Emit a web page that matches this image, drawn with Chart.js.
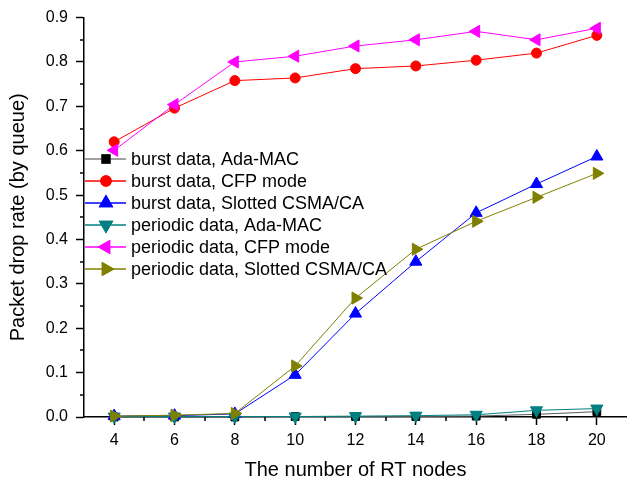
<!DOCTYPE html>
<html lang="en">
<head>
    <meta charset="UTF-8">
    <title>Packet drop rate</title>
    <style>
        * { margin: 0; padding: 0; box-sizing: border-box; }
        body { background: #ffffff; }
        .wrapper { width: 627px; height: 482px; }
    </style>
</head>
<body>
    <div class="wrapper">
        <canvas id="chart" width="627" height="482"></canvas>
    </div>
    <script src="https://cdn.jsdelivr.net/npm/chart.js@4/dist/chart.umd.min.js"></script>
    <script>
        const nodes = [4, 6, 8, 10, 12, 14, 16, 18, 20];
        const yTicks = [0, 0.1, 0.2, 0.3, 0.4, 0.5, 0.6, 0.7, 0.8, 0.9];

        const burstAda = [0.000, 0.000, 0.000, 0.001, 0.001, 0.001, 0.002, 0.006, 0.012];
        const burstCfp = [0.620, 0.696, 0.758, 0.764, 0.785, 0.791, 0.804, 0.820, 0.860];
        const burstSlotted = [0.002, 0.003, 0.007, 0.095, 0.233, 0.350, 0.460, 0.525, 0.587];
        const periodicAda = [0.001, 0.001, 0.001, 0.001, 0.002, 0.003, 0.005, 0.015, 0.019];
        const periodicCfp = [0.601, 0.704, 0.800, 0.813, 0.836, 0.850, 0.869, 0.850, 0.876];
        const periodicSlotted = [0.002, 0.004, 0.008, 0.115, 0.268, 0.378, 0.441, 0.495, 0.549];

        const labels = [
            "burst data, Ada-MAC",
            "burst data, CFP mode",
            "burst data, Slotted CSMA/CA",
            "periodic data, Ada-MAC",
            "periodic data, CFP mode",
            "periodic data, Slotted CSMA/CA",
        ];

        const FONT = '"Liberation Sans", Arial, sans-serif';

        const makeSet = (i, data, line, fill, style, rot, r) => ({
            label: labels[i],
            data: nodes.map((x, k) => ({ x: x, y: data[k] })),
            borderColor: line,
            backgroundColor: fill,
            borderWidth: 1,
            pointStyle: style,
            rotation: rot,
            pointRadius: r,
            pointBackgroundColor: fill,
            pointBorderColor: fill,
            pointBorderWidth: 1,
            tension: 0,
            clip: false,
            order: 6 - i,
        });

        const datasets = [
            makeSet(0, burstAda, "#5a5a5a", "#000000", "rect", 0, 5.5),
            makeSet(1, burstCfp, "#ff0000", "#ff0000", "circle", 0, 5),
            makeSet(2, burstSlotted, "#0000ff", "#0000ff", "triangle", 0, 7),
            makeSet(3, periodicAda, "#008080", "#008080", "triangle", 180, 7),
            makeSet(4, periodicCfp, "#ff00ff", "#ff00ff", "triangle", -90, 7),
            makeSet(5, periodicSlotted, "#808000", "#808000", "triangle", 90, 7),
        ];
        const legendLine = ["#808080", "#ff0000", "#0000ff", "#008080", "#ff00ff", "#808000"];

        // minor ticks, drawn outward like the major ones
        const minorTicks = {
            id: "minorTicks",
            afterDraw(chart) {
                const { ctx, chartArea, scales } = chart;
                ctx.save();
                ctx.strokeStyle = "#000";
                ctx.lineWidth = 1.5;
                ctx.beginPath();
                for (let v = 5; v <= 19; v += 2) {
                    const px = Math.round(scales.x.getPixelForValue(v));
                    ctx.moveTo(px, chartArea.bottom);
                    ctx.lineTo(px, chartArea.bottom + 4);
                }
                for (let v = 0.05; v < 0.9; v += 0.1) {
                    const py = Math.round(scales.y.getPixelForValue(v));
                    ctx.moveTo(chartArea.left, py);
                    ctx.lineTo(chartArea.left - 4, py);
                }
                ctx.stroke();
                ctx.restore();
            },
        };

        // legend inside the plot, line + marker + text
        const insideLegend = {
            id: "insideLegend",
            afterDatasetsDraw(chart) {
                const { ctx, chartArea } = chart;
                const x0 = chartArea.left + 1;
                ctx.save();
                ctx.font = "18px " + FONT;
                ctx.textBaseline = "middle";
                ctx.fillStyle = "#000";
                datasets.forEach((ds, i) => {
                    const y = 159 + i * 22;
                    ctx.strokeStyle = legendLine[i];
                    ctx.lineWidth = 1.5;
                    ctx.beginPath();
                    ctx.moveTo(x0, y);
                    ctx.lineTo(x0 + 41, y);
                    ctx.stroke();
                    Chart.helpers.drawPoint(ctx, {
                        pointStyle: ds.pointStyle,
                        rotation: ds.rotation,
                        radius: ds.pointRadius,
                        borderWidth: 1,
                    }, x0 + 21, y);
                    ctx.fillStyle = ds.pointBackgroundColor;
                    ctx.strokeStyle = ds.pointBorderColor;
                    ctx.fill();
                    ctx.stroke();
                    ctx.fillStyle = "#000";
                    ctx.fillText(ds.label, x0 + 46, y + 1);
                });
                ctx.restore();
            },
        };

        new Chart(document.getElementById("chart"), {
            type: "line",
            data: { datasets: datasets },
            plugins: [minorTicks, insideLegend],
            options: {
                responsive: false,
                animation: false,
                layout: {
                    autoPadding: false,
                    padding: { top: 17, right: 0, left: 0, bottom: 0 },
                },
                plugins: {
                    legend: { display: false },
                    tooltip: { enabled: false },
                },
                scales: {
                    x: {
                        type: "linear",
                        min: 3,
                        max: 21,
                        afterBuildTicks: (scale) => {
                            scale.ticks = nodes.map((v) => ({ value: v }));
                        },
                        afterFit: (scale) => {
                            scale.height = 65;
                            scale.paddingLeft = 0;
                            scale.paddingRight = 0;
                        },
                        border: { color: "#000", width: 1.5 },
                        grid: {
                            drawOnChartArea: false,
                            drawTicks: true,
                            tickLength: 8,
                            tickColor: "#000",
                            tickWidth: 1.5,
                        },
                        ticks: {
                            color: "#000",
                            font: { size: 16, family: FONT },
                            padding: 6,
                            maxRotation: 0,
                        },
                        title: {
                            display: true,
                            text: "The number of RT nodes",
                            color: "#000",
                            font: { size: 20, family: FONT },
                            padding: { top: 2, bottom: 0 },
                        },
                    },
                    y: {
                        type: "linear",
                        min: 0,
                        max: 0.9,
                        afterBuildTicks: (scale) => {
                            scale.ticks = yTicks.map((v) => ({ value: v }));
                        },
                        afterFit: (scale) => { scale.width = 84; },
                        border: { color: "#000", width: 1.5 },
                        grid: {
                            drawOnChartArea: false,
                            drawTicks: true,
                            tickLength: 8,
                            tickColor: "#000",
                            tickWidth: 1.5,
                        },
                        ticks: {
                            color: "#000",
                            font: { size: 16, family: FONT },
                            padding: 8,
                            callback: (v) => Number(v).toFixed(1),
                        },
                        title: {
                            display: true,
                            text: "Packet drop rate (by queue)",
                            color: "#000",
                            font: { size: 20, family: FONT },
                            padding: { top: 6, bottom: 0 },
                        },
                    },
                },
            },
        });
    </script>
</body>
</html>
